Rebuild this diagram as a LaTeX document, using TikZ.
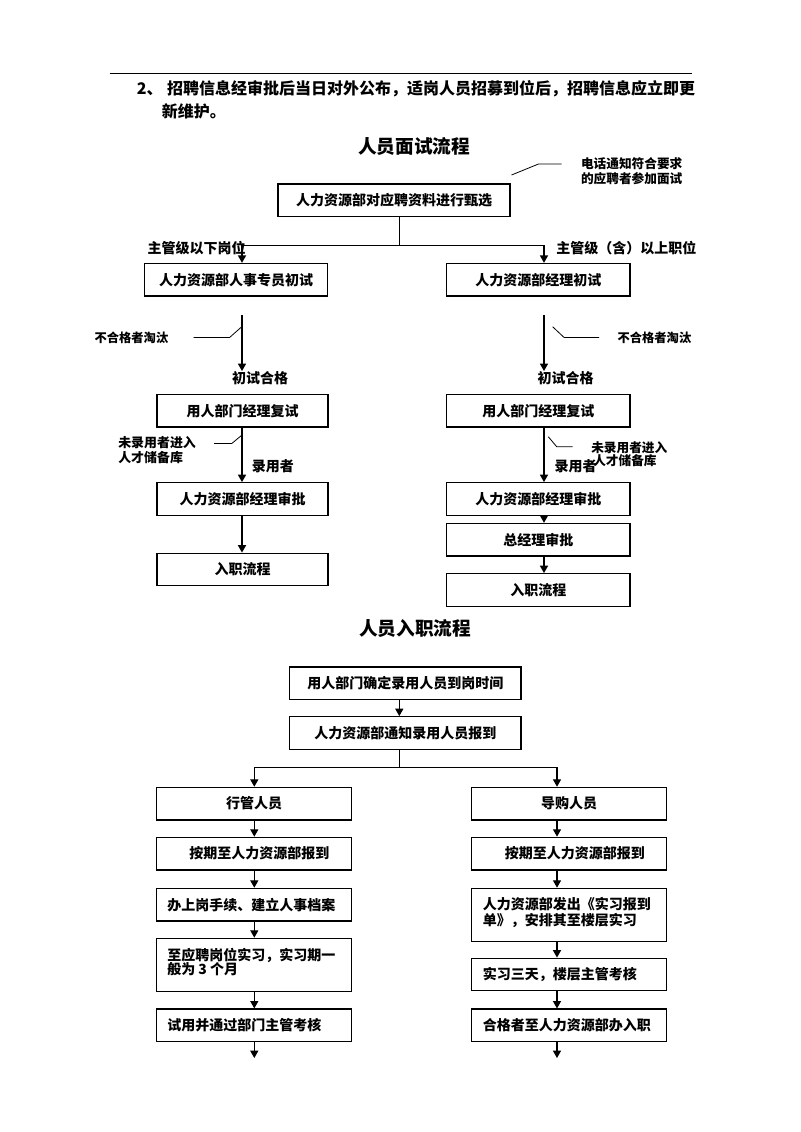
\documentclass[tikz,border=0pt]{standalone}
\usepackage{fontspec}
\setmainfont{Noto Sans CJK SC}
\usetikzlibrary{arrows.meta}
\begin{document}
\begin{tikzpicture}[x=0.75pt,y=-0.75pt,
  box/.style={draw, line width=1pt, inner sep=0pt, minimum height=24.4pt,
              font=\fontsize{10.5}{12}\selectfont\bfseries},
  lbl/.style={inner sep=0pt, anchor=west, align=left,
              font=\fontsize{10.5}{11}\selectfont\bfseries},
  note/.style={inner sep=0pt, anchor=west, align=left,
              font=\fontsize{9.5}{11}\selectfont\bfseries},
  ttl/.style={inner sep=0pt, font=\fontsize{14}{16}\selectfont\bfseries},
  conn/.style={line width=0.9pt},
  arr/.style={line width=0.9pt, -{Triangle[length=5.5pt,width=6pt]}},
  lead/.style={line width=0.6pt},
]
\useasboundingbox[fill=white] (0,0) rectangle (800,1132);

% ---------- heading ----------
\draw[line width=0.75pt] (109.5,73.3) -- (692,73.3);
\node[inner sep=0pt, anchor=west, font=\fontsize{12}{14}\selectfont\bfseries] (h1) at (136.5,88.3)
  {2、\hspace{3.5pt}招聘信息经审批后当日对外公布，适岗人员招募到位后，招聘信息应立即更};
\node[inner sep=0pt, anchor=west, font=\fontsize{12}{14}\selectfont\bfseries] (h2) at (161.5,111.7)
  {新维护。};

% ---------- interview flow ----------
\node[ttl] (t1) at (414.3,146) {人员面试流程};

\node[box, minimum width=174pt] (A) at (394,200.25) {人力资源部对应聘资料进行甄选};
\node[box, minimum width=137.25pt] (B) at (236,279.75) {人力资源部人事专员初试};
\node[box, minimum width=137.6pt] (C) at (538.25,279.75) {人力资源部经理初试};
\node[box, minimum width=128.25pt] (D) at (242.5,410.75) {用人部门经理复试};
\node[box, minimum width=137.6pt] (E) at (538.25,410.75) {用人部门经理复试};
\node[box, minimum width=128.25pt] (F) at (242.5,499) {人力资源部经理审批};
\node[box, minimum width=137.6pt] (G) at (538.25,499) {人力资源部经理审批};
\node[box, minimum width=128.25pt] (H) at (242.5,569.5) {入职流程};
\node[box, minimum width=137.6pt] (I) at (538.25,539.75) {总经理审批};
\node[box, minimum width=137.6pt] (J) at (538.25,590) {入职流程};

% annotation near top box
\node[note, font=\fontsize{9.5}{10.9}\selectfont\bfseries] (tel) at (580.8,171.3) {电话通知符合要求\\的应聘者参加面试};
\coordinate (tel1) at (511.5,175);
\coordinate (tel2) at (538.5,164);
\coordinate (tel3) at (561.5,164);
\draw[lead] (tel1) -- (tel2) -- (tel3);

% branch
\coordinate (br) at (399.5,245.7);
\coordinate (brL) at (242,245.7);
\coordinate (brR) at (544,245.7);
\draw[conn] (A.south -| br) -- (br);
\draw[arr] (br) -- (brL) -- (B.north -| brL);
\draw[arr] (br) -- (brR) -- (C.north -| brR);
\node[lbl] (sL) at (147.3,247.7) {主管级以下岗位};
\node[lbl] (sR) at (556,247.7) {主管级（含）以上职位};

% first-interview results
\node[lbl] (okL) at (231.8,378) {初试合格};
\node[lbl] (okR) at (537.4,378) {初试合格};
\coordinate (gL) at (242,315);
\coordinate (gR) at (544,315);
\draw[arr] (gL) -- (okL.north -| gL);
\draw[arr] (gR) -- (okR.north -| gR);

\node[note, font=\fontsize{9.2}{11}\selectfont\bfseries] (failL) at (94.4,338.3) {不合格者淘汰};
\node[note, font=\fontsize{9.2}{11}\selectfont\bfseries] (failR) at (617.4,338.3) {不合格者淘汰};
\coordinate (fL1) at (193.5,337.4);
\coordinate (fL2) at (229.7,337.4);
\coordinate (fL3) at (242,326.5);
\draw[lead] (fL1) -- (fL2) -- (fL3);
\coordinate (fR1) at (552.6,326.7);
\coordinate (fR2) at (564,337.4);
\coordinate (fR3) at (599,337.4);
\draw[lead] (fR1) -- (fR2) -- (fR3);

% second interview
\coordinate (lx) at (242,0);
\coordinate (rx) at (544,0);
\draw[arr] (D.south -| lx) -- (F.north -| lx);
\draw[arr] (F.south -| lx) -- (H.north -| lx);
\draw[arr] (E.south -| rx) -- (G.north -| rx);
\draw[arr] (G.south -| rx) -- (I.north -| rx);
\draw[arr] (I.south -| rx) -- (J.north -| rx);

\node[lbl] (hireL) at (251.5,466) {录用者};
\node[lbl] (hireR) at (554.3,466) {录用者};
\node[note, font=\fontsize{9.7}{11.2}\selectfont\bfseries] (poolL) at (118,450.3) {未录用者进入\\人才储备库};
\node[note, font=\fontsize{9.5}{10.3}\selectfont\bfseries] (poolR) at (591,454.2) {未录用者进入\\\hspace{1.5pt}人才储备库};
\coordinate (pL1) at (214,443.5);
\coordinate (pL2) at (231.8,443.5);
\coordinate (pL3) at (242,435);
\draw[lead] (pL1) -- (pL2) -- (pL3);
\coordinate (pR1) at (548.3,436.7);
\coordinate (pR2) at (556.7,446.7);
\coordinate (pR3) at (572.7,446.7);
\draw[lead] (pR1) -- (pR2) -- (pR3);

% ---------- onboarding flow ----------
\node[ttl] (t2) at (415,628.3) {人员入职流程};

\node[box, minimum width=173.6pt] (K) at (405.25,683.15) {用人部门确定录用人员到岗时间};
\node[box, minimum width=173.6pt] (L) at (405.25,733) {人力资源部通知录用人员报到};

\node[box, minimum width=145.95pt] (M) at (254,803.65) {行管人员};
\node[box, minimum width=145.95pt] (M2) at (254,853.6) {};
\node[box, minimum width=145.95pt] (M3) at (254,904.65) {};
\node[box, minimum width=145.95pt, minimum height=40pt] (M4) at (254,965) {};
\node[box, minimum width=145.95pt] (M5) at (254,1025.35) {};

\node[box, minimum width=146.25pt] (N) at (569.2,803.65) {导购人员};
\node[box, minimum width=146.25pt] (N2) at (569.2,853.6) {};
\node[box, minimum width=146.25pt, minimum height=40pt] (N3) at (569.2,915) {};
\node[box, minimum width=146.25pt] (N4) at (569.2,974.5) {};
\node[box, minimum width=146.25pt] (N5) at (569.2,1025.35) {};

\node[lbl] (M2t) at (189,853.6) {按期至人力资源部报到};
\node[lbl] (M3t) at (167,904.65) {办上岗手续、建立人事档案};
\node[lbl, font=\fontsize{10.5}{11}\selectfont\bfseries] (M4t) at (167,962.2) {至应聘岗位实习，实习期一\\般为 3 个月};
\node[lbl] (M5t) at (167,1025.35) {试用并通过部门主管考核};
\node[lbl] (N2t) at (504.5,853.6) {按期至人力资源部报到};
\node[lbl, font=\fontsize{10.5}{11.8}\selectfont\bfseries] (N3t) at (482.7,912.2) {人力资源部发出《实习报到\\单》，安排其至楼层实习};
\node[lbl] (N4t) at (482.7,974.5) {实习三天，楼层主管考核};
\node[lbl] (N5t) at (482.7,1025.35) {合格者至人力资源部办入职};

\coordinate (ox) at (399.3,0);
\coordinate (obr) at (399.3,767.7);
\coordinate (obrL) at (254.3,767.7);
\coordinate (obrR) at (557,767.7);
\draw[arr] (K.south -| ox) -- (L.north -| ox);
\draw[conn] (L.south -| ox) -- (obr);
\draw[arr] (obr) -- (obrL) -- (M.north -| obrL);
\draw[arr] (obr) -- (obrR) -- (N.north -| obrR);

\coordinate (mx) at (254.3,0);
\coordinate (nx) at (557,0);
\coordinate (endL) at (254.3,1058);
\coordinate (endR) at (557,1058);
\draw[arr] (M.south -| mx) -- (M2.north -| mx);
\draw[arr] (M2.south -| mx) -- (M3.north -| mx);
\draw[arr] (M3.south -| mx) -- (M4.north -| mx);
\draw[arr] (M4.south -| mx) -- (M5.north -| mx);
\draw[arr] (M5.south -| mx) -- (endL);
\draw[arr] (N.south -| nx) -- (N2.north -| nx);
\draw[arr] (N2.south -| nx) -- (N3.north -| nx);
\draw[arr] (N3.south -| nx) -- (N4.north -| nx);
\draw[arr] (N4.south -| nx) -- (N5.north -| nx);
\draw[arr] (N5.south -| nx) -- (endR);
\end{tikzpicture}
\end{document}
